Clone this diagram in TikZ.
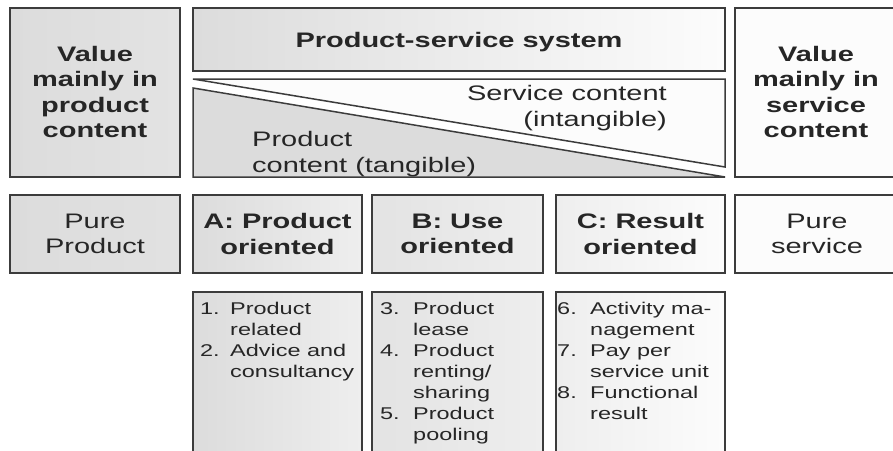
\documentclass[tikz,border=0pt]{standalone}
\usepackage{fontspec}
\setmainfont{Liberation Sans}[FakeStretch=1.38]
\usepackage{array}
\definecolor{edge}{HTML}{3C3C3C}
\definecolor{gA}{HTML}{DCDCDC}
\definecolor{gB}{HTML}{EEEEEE}
\definecolor{gC}{HTML}{F7F7F7}
\definecolor{wh}{HTML}{FCFCFC}
\tikzset{
  boxline/.style={draw=edge, line width=1.5pt},
  bigbold/.style={font=\fontsize{21}{25.5}\selectfont\bfseries, text=black!85, align=center, inner sep=0pt},
  plain/.style={font=\fontsize{21}{25.5}\selectfont, text=black!85, align=center, inner sep=0pt},
  listtxt/.style={font=\fontsize{17}{21}\selectfont, text=black!85, inner sep=0pt, anchor=north west}
}
\begin{document}
\begin{tikzpicture}[x=1pt,y=-1pt]
\useasboundingbox (0,0) rectangle (893,450);
\clip (0,0) rectangle (893,450);
\fill[white] (0,0) rectangle (893,450);
% top row
\path[boxline, left color=gA, right color=gA!80!white] (10,8) rectangle (180,177);
\path[boxline, left color=gA, right color=wh] (193,8) rectangle (725,71);
\path[boxline, fill=wh] (193,79) -- (725,79) -- (725,167) -- cycle;
\path[boxline, fill=gA] (193,88) -- (725,177) -- (193,177) -- cycle;
\path[boxline, fill=wh] (735,8) rectangle (900,177);
% second row
\path[boxline, left color=gA, right color=gA!85!white] (10,195) rectangle (180,273);
\path[boxline, left color=gA, right color=gB] (193,195) rectangle (362,273);
\path[boxline, left color=gA!80!white, right color=gB] (372,195) rectangle (543,273);
\path[boxline, left color=gB, right color=wh] (556,195) rectangle (725,273);
\path[boxline, fill=wh] (735,195) rectangle (900,273);
% third row
\path[boxline, left color=gA, right color=gB] (193,292) rectangle (362,460);
\path[boxline, left color=gA!80!white, right color=gB] (372,292) rectangle (543,460);
\path[boxline, left color=gB, right color=wh] (556,292) rectangle (725,460);
% texts
\node[bigbold] (vp) at (95,92) {Value\\mainly in\\product\\content};
\node[bigbold, anchor=base] (pss) at (459,47) {Product-service system};
\node[plain, align=right, anchor=east] (sc) at (667,108) {Service content\\(intangible)};
\node[plain, align=left, anchor=west] (pc) at (252,154) {Product\\content (tangible)};
\node[bigbold] (vs) at (816,92) {Value\\mainly in\\service\\content};
\node[plain] (pp) at (95,234) {Pure\\Product};
\node[bigbold] (a) at (277.5,234) {A: Product\\oriented};
\node[bigbold] (b) at (457.5,234) {B: Use\\oriented};
\node[bigbold] (c) at (640.5,234) {C: Result\\oriented};
\node[plain] (ps) at (817,234) {Pure\\service};
\node[listtxt] (la) at (200,299.3) {\begin{tabular}{@{}p{30pt}@{}l@{}}1.&Product\\&related\\2.&Advice and\\&consultancy\end{tabular}};
\node[listtxt] (lb) at (380,299.3) {\begin{tabular}{@{}p{33pt}@{}l@{}}3.&Product\\&lease\\4.&Product\\&renting/\\&sharing\\5.&Product\\&pooling\end{tabular}};
\node[listtxt] (lc) at (557,299.3) {\begin{tabular}{@{}p{33pt}@{}l@{}}6.&Activity ma-\\&nagement\\7.&Pay per\\&service unit\\8.&Functional\\&result\end{tabular}};
\end{tikzpicture}
\end{document}
